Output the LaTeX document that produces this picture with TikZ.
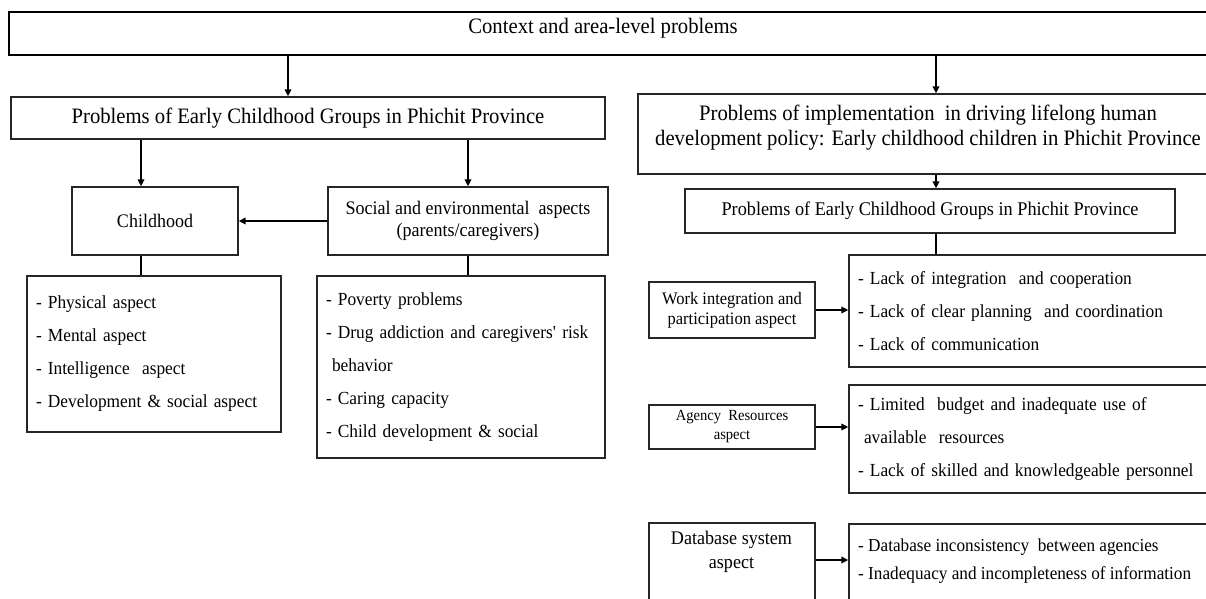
\documentclass[tikz,border=0pt]{standalone}
\usepackage{fontspec}
\setmainfont{Liberation Serif}[FakeStretch=0.94]
\usetikzlibrary{arrows.meta,calc}
\begin{document}
\begin{tikzpicture}[x=1pt,y=-1pt,
  box/.style={draw=black!85, line width=1.3pt, rectangle, inner sep=0pt, align=center},
  listbox/.style={draw=black!85, line width=1.3pt, rectangle, inner xsep=9pt, inner ysep=0pt, align=left},
  arr/.style={line width=1.8pt, -{Triangle[length=7pt,width=6.5pt]}},
  link/.style={line width=1.8pt},
  fbig/.style={font=\fontsize{22}{25}\selectfont},
  fmid/.style={font=\fontsize{19.15}{22}\selectfont},
  flist/.style={font=\fontsize{18.45}{33}\selectfont},
]
\useasboundingbox (0,0) rectangle (1206,598);
\clip (0,0) rectangle (1206,598);
\fill[white] (0,0) rectangle (1206,598);

% top
\node[box, line width=1.8pt, draw=black, minimum width=1213pt, minimum height=43pt] (top) at (615.5,33.5) {};
\node[fbig, inner sep=0pt] (toptxt) at (603,28) {Context and area-level problems};

% left branch
\node[box, fbig, minimum width=594pt, minimum height=42pt] (A) at (308,118) {Problems of Early Childhood Groups in Phichit Province};
\node[box, fmid, minimum width=166pt, minimum height=68pt] (child) at (155,221) {Childhood};
\node[box, fmid, minimum width=280pt, minimum height=68pt] (social) at (468,221) {Social and environmental\ \ aspects\\(parents/caregivers)};
\node[listbox, flist, text width=236pt, minimum height=156pt] (L1) at (154,354) {- Physical aspect\\- Mental aspect\\- Intelligence\ \ aspect\\- Development \& social aspect};
\node[listbox, flist, text width=270pt, minimum height=182pt] (L2) at (461,367) {- Poverty problems\\- Drug addiction and caregivers\textquotesingle{} risk\\\hspace*{6pt}behavior\\- Caring capacity\\- Child development \& social};

% right branch
\node[box, minimum width=584pt, minimum height=80pt] (B) at (930,134) {};
\node[fbig, align=center, inner sep=0pt] (Btxt) at (928,127.5) {Problems of implementation\ \ in driving lifelong human\\development policy: Early childhood children in Phichit Province};
\node[box, font=\fontsize{19.4}{22}\selectfont, minimum width=490pt, minimum height=44pt] (C) at (930,211) {Problems of Early Childhood Groups in Phichit Province};

\node[box, font=\fontsize{17.55}{20}\selectfont, minimum width=166pt, minimum height=56pt] (W) at (732,310) {Work integration and\\participation aspect};
\node[listbox, flist, text width=356pt, minimum height=112pt] (D1) at (1036,311) {- Lack of integration\ \ and cooperation\\- Lack of clear planning\ \ and coordination\\- Lack of communication};

\node[box, font=\fontsize{15.5}{19}\selectfont, minimum width=166pt, minimum height=44pt] (R) at (732,427) {Agency\ \ Resources\\aspect};
\node[listbox, flist, text width=356pt, minimum height=108pt] (D2) at (1036,439) {- Limited\ \ budget and inadequate use of\\\hspace*{6pt}available\ \ resources\\- Lack of skilled and knowledgeable personnel};

\node[box, minimum width=166pt, minimum height=100pt] (Db) at (732,573) {};
\node[align=center, inner sep=0pt, font=\fontsize{19.25}{24}\selectfont] (Dbtxt) at (731.5,552) {Database system\\aspect};
\node[box, minimum width=374pt, minimum height=100pt] (D3) at (1036,574) {};
\node[align=left, inner sep=0pt, anchor=west, font=\fontsize{18.3}{28}\selectfont] (D3txt) at (858,561) {- Database inconsistency\ \ between agencies\\- Inadequacy and incompleteness of information};

% connectors
\draw[arr] (top.south -| 288,0) -- (A.north -| 288,0);
\draw[arr] (top.south -| 936,0) -- (B.north -| 936,0);
\draw[arr] (B.south -| 936,0) -- (C.north -| 936,0);
\draw[link] (C.south -| 936,0) -- (D1.north -| 936,0);
\draw[arr] (A.south -| 141,0) -- (child.north -| 141,0);
\draw[arr] (A.south -| social.north) -- (social.north);
\draw[arr] (social.west) -- (child.east |- social.west);
\draw[link] (child.south -| 141,0) -- (L1.north -| 141,0);
\draw[link] (social.south) -- (L2.north -| social.south);
\draw[arr] (W.east) -- (W.east -| D1.west);
\draw[arr] (R.east) -- (R.east -| D2.west);
\draw[arr] (Db.east |- 0,560) -- (D3.west |- 0,560);
\end{tikzpicture}
\end{document}
